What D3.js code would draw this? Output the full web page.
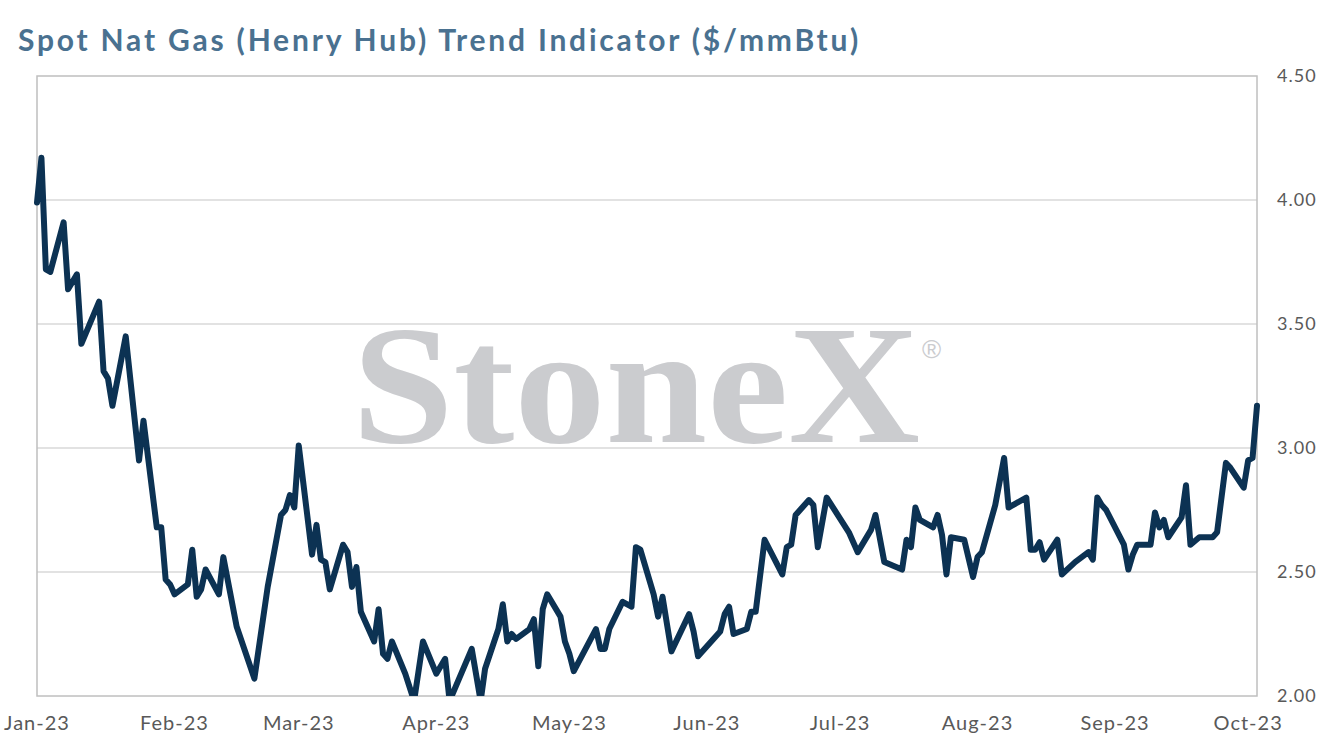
<!DOCTYPE html>
<html>
<head>
<meta charset="utf-8">
<script src="https://cdn.jsdelivr.net/npm/d3@7"></script>
<style>
  body { margin: 0; background: #fff; }
  svg { display: block; }
  .title { font-family: Lato, "Noto Sans", sans-serif; font-weight: 700; font-size: 30px; letter-spacing: 2.8px; fill: #4a7190; }
  .axis-label { font-family: Lato, "Noto Sans", sans-serif; font-size: 20px; letter-spacing: 1px; fill: #595959; }
</style>
</head>
<body>
<div id="chart"></div>
<script>
// data
const dates = [
  "2023-01-03","2023-01-04","2023-01-05","2023-01-06","2023-01-09","2023-01-10","2023-01-12","2023-01-13",
  "2023-01-17","2023-01-18","2023-01-19","2023-01-20","2023-01-23","2023-01-26","2023-01-27","2023-01-30",
  "2023-01-31","2023-02-01","2023-02-02","2023-02-03","2023-02-06","2023-02-07","2023-02-08","2023-02-09",
  "2023-02-10","2023-02-13","2023-02-14","2023-02-17","2023-02-21","2023-02-24","2023-02-27","2023-02-28",
  "2023-03-01","2023-03-02","2023-03-03","2023-03-06","2023-03-07","2023-03-08","2023-03-09","2023-03-10",
  "2023-03-13","2023-03-14","2023-03-15","2023-03-16","2023-03-17","2023-03-20","2023-03-21","2023-03-22",
  "2023-03-23","2023-03-24","2023-03-27","2023-03-29","2023-03-31","2023-04-03","2023-04-05","2023-04-06",
  "2023-04-11","2023-04-13","2023-04-14","2023-04-17","2023-04-18","2023-04-19","2023-04-20","2023-04-21",
  "2023-04-24","2023-04-25","2023-04-26","2023-04-27","2023-04-28","2023-05-01","2023-05-02","2023-05-03",
  "2023-05-04","2023-05-09","2023-05-10","2023-05-11","2023-05-12","2023-05-15","2023-05-17","2023-05-18",
  "2023-05-19","2023-05-22","2023-05-23","2023-05-24","2023-05-26","2023-05-30","2023-05-31","2023-06-01",
  "2023-06-06","2023-06-07","2023-06-08","2023-06-09","2023-06-12","2023-06-13","2023-06-14","2023-06-16",
  "2023-06-20","2023-06-21","2023-06-22","2023-06-23","2023-06-26","2023-06-27","2023-06-28","2023-06-30",
  "2023-07-05","2023-07-07","2023-07-10","2023-07-11","2023-07-13","2023-07-17","2023-07-18","2023-07-19",
  "2023-07-20","2023-07-21","2023-07-24","2023-07-25","2023-07-26","2023-07-27","2023-07-28","2023-07-31",
  "2023-08-02","2023-08-03","2023-08-04","2023-08-07","2023-08-09","2023-08-10","2023-08-14","2023-08-15",
  "2023-08-16","2023-08-17","2023-08-18","2023-08-21","2023-08-22","2023-08-25","2023-08-28","2023-08-29",
  "2023-08-30","2023-08-31","2023-09-01","2023-09-05","2023-09-06","2023-09-07","2023-09-08","2023-09-11",
  "2023-09-12","2023-09-13","2023-09-14","2023-09-15","2023-09-18","2023-09-19","2023-09-20","2023-09-22",
  "2023-09-25","2023-09-26","2023-09-28","2023-09-29","2023-10-02","2023-10-03","2023-10-04","2023-10-05"
];
const prices = [
  3.99, 4.17, 3.72, 3.71, 3.91, 3.64, 3.70, 3.42,
  3.59, 3.31, 3.28, 3.17, 3.45, 2.95, 3.11, 2.68,
  2.68, 2.47, 2.45, 2.41, 2.45, 2.59, 2.40, 2.43,
  2.51, 2.41, 2.56, 2.28, 2.07, 2.44, 2.73, 2.75,
  2.81, 2.76, 3.01, 2.57, 2.69, 2.55, 2.54, 2.43,
  2.61, 2.58, 2.44, 2.52, 2.34, 2.22, 2.35, 2.17,
  2.15, 2.22, 2.09, 1.98, 2.22, 2.09, 2.15, 1.98,
  2.19, 1.98, 2.11, 2.27, 2.37, 2.22, 2.25, 2.23,
  2.27, 2.31, 2.12, 2.35, 2.41, 2.32, 2.22, 2.17,
  2.10, 2.27, 2.19, 2.19, 2.27, 2.38, 2.36, 2.60,
  2.59, 2.41, 2.32, 2.40, 2.18, 2.33, 2.26, 2.16,
  2.26, 2.33, 2.36, 2.25, 2.27, 2.34, 2.34, 2.63,
  2.49, 2.60, 2.61, 2.73, 2.79, 2.77, 2.60, 2.80,
  2.66, 2.58, 2.67, 2.73, 2.54, 2.51, 2.63, 2.60,
  2.76, 2.71, 2.68, 2.73, 2.65, 2.49, 2.64, 2.63,
  2.48, 2.56, 2.58, 2.77, 2.96, 2.76, 2.80, 2.59,
  2.59, 2.62, 2.55, 2.63, 2.49, 2.54, 2.58, 2.55,
  2.80, 2.77, 2.75, 2.61, 2.51, 2.57, 2.61, 2.61,
  2.74, 2.68, 2.71, 2.64, 2.72, 2.85, 2.61, 2.64,
  2.64, 2.66, 2.94, 2.92, 2.84, 2.95, 2.96, 3.17
];
const yTicks = [2.0, 2.5, 3.0, 3.5, 4.0, 4.5];
const titleText = "Spot Nat Gas (Henry Hub) Trend Indicator ($/mmBtu)";

////////////////////////////  Init  ///////////////////////////////
const width = 1335;
const height = 756;
const plot = { left: 37, right: 1257, top: 76, bottom: 696 };

const svg = d3.select("#chart").append("svg")
  .attr("width", width)
  .attr("height", height);

const parse = d3.utcParse("%Y-%m-%d");
const data = dates.map((d, i) => ({ date: parse(d), value: prices[i] }));

// scales
const x = d3.scaleUtc()
  .domain([data[0].date, data[data.length - 1].date])
  .range([plot.left, plot.right]);

const y = d3.scaleLinear()
  .domain([2, 4.5])
  .range([plot.bottom, plot.top]);

// month ticks fall on the same day of month as the first point
const xTicks = d3.utcMonth
  .range(d3.utcMonth.floor(data[0].date), d3.utcMonth.offset(data[data.length - 1].date, 1))
  .map((d) => d3.utcDay.offset(d, data[0].date.getUTCDate() - 1))
  .filter((d) => d <= x.domain()[1]);

// title
svg.append("text")
  .attr("class", "title")
  .attr("x", 18)
  .attr("y", 51)
  .text(titleText);

// watermark
const wm = svg.append("g").attr("fill", "#cbcccf");
wm.append("text")
  .attr("x", 352)
  .attr("y", 442)
  .attr("font-family", "'Liberation Serif', 'DejaVu Serif', serif")
  .attr("font-weight", 700)
  .attr("font-size", 170)
  .attr("textLength", 568)
  .attr("lengthAdjust", "spacingAndGlyphs")
  .text("StoneX");
wm.append("text")
  .attr("x", 922)
  .attr("y", 358)
  .attr("font-family", "'Liberation Sans', sans-serif")
  .attr("font-size", 26)
  .text("®");

// gridlines
svg.append("g")
  .selectAll("line")
  .data(yTicks.slice(1, -1))
  .join("line")
  .attr("x1", plot.left)
  .attr("x2", plot.right)
  .attr("y1", (d) => y(d))
  .attr("y2", (d) => y(d))
  .attr("stroke", "#d9d9d9")
  .attr("stroke-width", 1.5);

// frame
svg.append("rect")
  .attr("x", plot.left)
  .attr("y", plot.top)
  .attr("width", plot.right - plot.left)
  .attr("height", plot.bottom - plot.top)
  .attr("fill", "none")
  .attr("stroke", "#bfbfbf")
  .attr("stroke-width", 1.5);

// y labels (right side)
svg.append("g")
  .selectAll("text")
  .data(yTicks)
  .join("text")
  .attr("class", "axis-label")
  .attr("x", 1277)
  .attr("y", (d) => y(d))
  .attr("dy", "0.36em")
  .style("font-size", "18px")
  .text((d) => d3.format(".2f")(d));

// x labels
svg.append("g")
  .selectAll("text")
  .data(xTicks)
  .join("text")
  .attr("class", "axis-label")
  .attr("x", (d) => x(d))
  .attr("y", 730)
  .attr("text-anchor", "middle")
  .text((d) => d3.utcFormat("%b-%y")(d));

// line, clipped to plot area
svg.append("clipPath")
  .attr("id", "plot-clip")
  .append("rect")
  .attr("x", plot.left - 10)
  .attr("y", plot.top)
  .attr("width", plot.right - plot.left + 20)
  .attr("height", plot.bottom - plot.top);

const line = d3.line()
  .x((d) => x(d.date))
  .y((d) => y(d.value));

svg.append("path")
  .datum(data)
  .attr("clip-path", "url(#plot-clip)")
  .attr("d", line)
  .attr("fill", "none")
  .attr("stroke", "#0c3253")
  .attr("stroke-width", 6)
  .attr("stroke-linejoin", "round")
  .attr("stroke-linecap", "round");
</script>
</body>
</html>
